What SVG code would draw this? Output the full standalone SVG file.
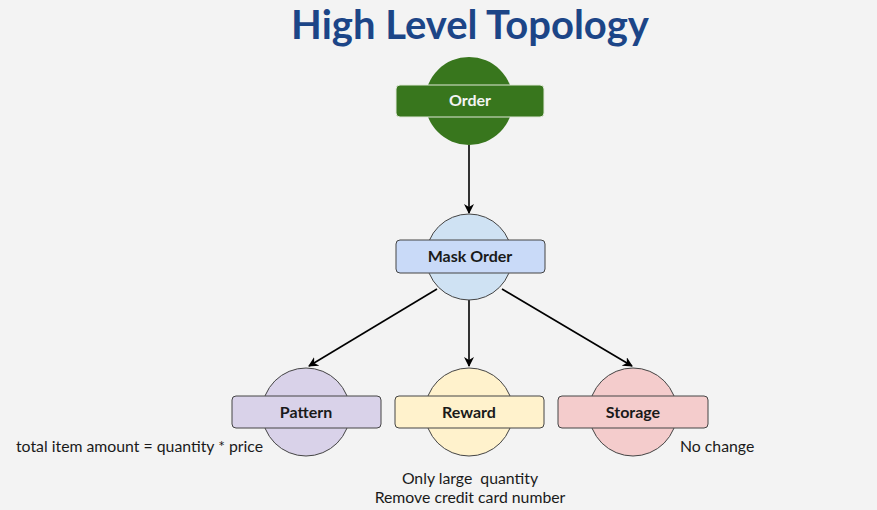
<svg xmlns="http://www.w3.org/2000/svg" width="877" height="510" viewBox="0 0 877 510">
<defs>
<marker id="ah" viewBox="0 0 10 10" refX="9" refY="5" markerWidth="10" markerHeight="10" markerUnits="userSpaceOnUse" orient="auto">
<path d="M0,0 L10,5 L0,10 L3,5 z" fill="#000"/>
</marker>
</defs>
<style>
text{font-family:Lato,"Liberation Sans",sans-serif}
.lbl{font-size:16px;font-weight:bold;fill:#1a1a1a;text-anchor:middle}
.note{font-size:15.8px;fill:#1a1a1a}
.ln{stroke:#000;stroke-width:1.6;fill:none;marker-end:url(#ah)}
.sh{stroke:#444;stroke-width:1}
</style>
<rect width="877" height="510" fill="#f3f3f3"/>
<text x="470" y="39" font-size="40" font-weight="bold" fill="#1c4587" text-anchor="middle">High Level Topology</text>
<g id="connectors">
<line class="ln" x1="469" y1="145" x2="469" y2="213"/>
<line class="ln" x1="437" y1="289" x2="309" y2="366"/>
<line class="ln" x1="469" y1="300" x2="469" y2="366"/>
<line class="ln" x1="502" y1="289" x2="632" y2="366"/>
</g>
<g id="order">
<circle cx="469" cy="101" r="44" fill="#38761d"/>
<rect x="396" y="85" width="148" height="32" rx="4" fill="#38761d" stroke="#e0e8d8" stroke-width="1"/>
<text x="470" y="106" class="lbl" style="fill:#f3f3f3">Order</text>
</g>
<g id="mask">
<circle class="sh" cx="469" cy="257" r="43" fill="#cfe2f3"/>
<rect class="sh" x="396" y="240" width="149" height="33" rx="4" fill="#c9daf8"/>
<text x="470" y="262" class="lbl">Mask Order</text>
</g>
<g id="pattern">
<circle class="sh" cx="306" cy="412" r="44" fill="#d9d2e9"/>
<rect class="sh" x="232" y="396" width="149" height="32" rx="4" fill="#d9d2e9"/>
<text x="306" y="418" class="lbl">Pattern</text>
</g>
<g id="reward">
<circle class="sh" cx="469" cy="412" r="44" fill="#fff2cc"/>
<rect class="sh" x="395" y="396" width="149" height="32" rx="4" fill="#fff2cc"/>
<text x="469" y="418" class="lbl">Reward</text>
</g>
<g id="storage">
<circle class="sh" cx="633" cy="412" r="44" fill="#f4cccc"/>
<rect class="sh" x="558" y="396" width="150" height="32" rx="4" fill="#f4cccc"/>
<text x="633" y="418" class="lbl">Storage</text>
</g>
<text x="16" y="452" class="note">total item amount = quantity * price</text>
<text x="680" y="452" class="note">No change</text>
<text x="470" y="484" class="note" text-anchor="middle" xml:space="preserve">Only large  quantity</text>
<text x="470" y="503" class="note" text-anchor="middle">Remove credit card number</text>
</svg>
